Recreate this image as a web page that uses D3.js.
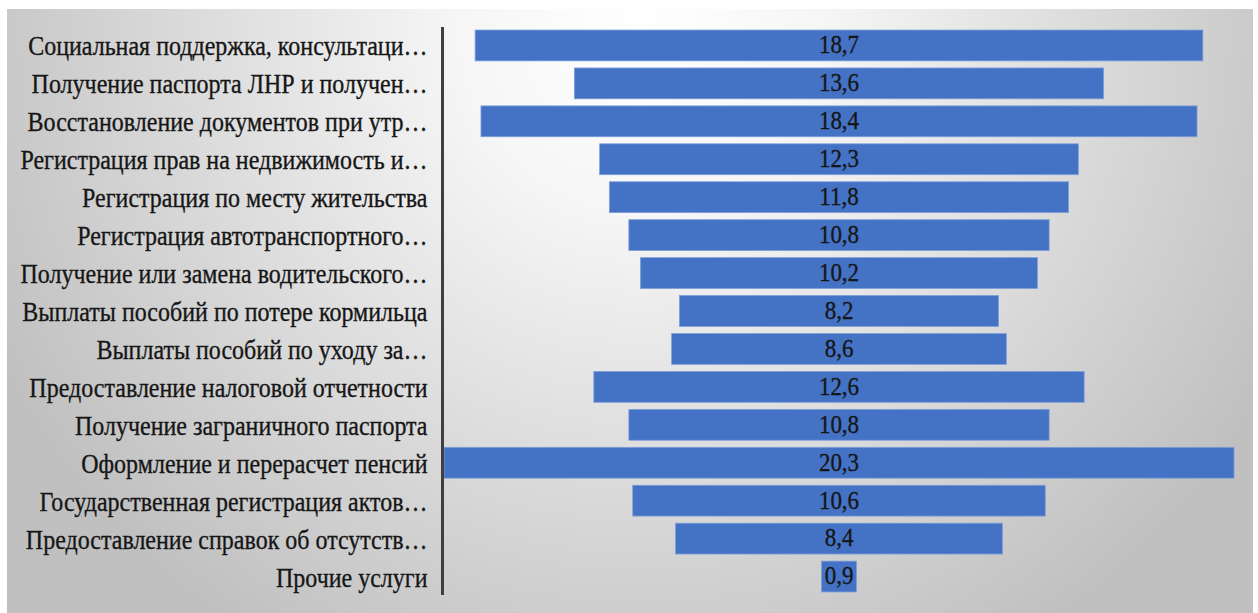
<!DOCTYPE html>
<html>
<head>
<meta charset="utf-8">
<script src="https://cdn.jsdelivr.net/npm/d3@7"></script>
<style>
  html, body { margin: 0; padding: 0; background: #ffffff; }
  svg { display: block; }
</style>
</head>
<body>
<svg id="chart" width="1258" height="613"></svg>
<script>
// Service categories (as shown, shortened with an ellipsis)
const categories = [
  "Социальная поддержка, консультаци…",
  "Получение паспорта ЛНР и получен…",
  "Восстановление документов при утр…",
  "Регистрация прав на недвижимость и…",
  "Регистрация по месту жительства",
  "Регистрация автотранспортного…",
  "Получение или замена водительского…",
  "Выплаты пособий по потере кормильца",
  "Выплаты пособий по уходу за…",
  "Предоставление налоговой отчетности",
  "Получение заграничного паспорта",
  "Оформление и перерасчет пенсий",
  "Государственная регистрация актов…",
  "Предоставление справок об отсутств…",
  "Прочие услуги"
];

// Share of requests, %
const values = [18.7, 13.6, 18.4, 12.3, 11.8, 10.8, 10.2, 8.2, 8.6, 12.6, 10.8, 20.3, 10.6, 8.4, 0.9];

const svg = d3.select("#chart");
const W = 1258, H = 613;
const serif = "'Liberation Serif', 'Times New Roman', Times, serif";
const ink = "#161616";

// Background panel with a soft radial shading
const defs = svg.append("defs");
const grad = defs.append("radialGradient")
  .attr("id", "bg")
  .attr("gradientUnits", "userSpaceOnUse")
  .attr("cx", 640).attr("cy", 30).attr("r", 720);
grad.append("stop").attr("offset", 0).attr("stop-color", "#ffffff");
grad.append("stop").attr("offset", 0.25).attr("stop-color", "#f6f6f6");
grad.append("stop").attr("offset", 1).attr("stop-color", "#c0c0c0");

svg.append("rect").attr("x", 7).attr("y", 9).attr("width", 1246).attr("height", H - 9)
  .attr("fill", "url(#bg)");

const axisX = 442.5;
const centerX = 839;
const plotTop = 27, plotBottom = 595;

const y = d3.scaleBand().domain(d3.range(categories.length))
  .range([plotTop, plotBottom]).paddingInner(0.187).paddingOuter(0.08);
// Half-width scale: bars are centred on one line, funnel style
const half = d3.scaleLinear().domain([0, 20.3]).range([0, (1234 - 444) / 2]);

const g = svg.append("g");

g.selectAll("rect.bar")
  .data(values)
  .join("rect")
  .attr("class", "bar")
  .attr("x", d => centerX - half(d))
  .attr("y", (d, i) => y(i))
  .attr("width", d => 2 * half(d))
  .attr("height", y.bandwidth())
  .attr("fill", "#4472c4")
  .attr("stroke", "#7d9fd9")
  .attr("stroke-width", 0.8);

// Value labels, centred on each bar (slightly tall lettering)
g.selectAll("g.val")
  .data(values)
  .join("g")
  .attr("class", "val")
  .attr("transform", (d, i) => `translate(${centerX},${y(i) + y.bandwidth() / 2}) scale(1,1.1)`)
  .append("text")
  .attr("dy", "0.31em")
  .attr("text-anchor", "middle")
  .attr("font-family", serif)
  .attr("font-size", 23)
  .attr("fill", ink)
  .attr("stroke", ink)
  .attr("stroke-width", 0.3)
  .text(d => d.toFixed(1).replace(".", ","));

// Category axis on the left
const yAxis = d3.axisLeft(y).tickSize(0).tickPadding(15).tickFormat(i => categories[i])
  .offset(0);
const ax = svg.append("g").attr("transform", `translate(${axisX},0)`).call(yAxis);
ax.attr("font-family", serif);
ax.select(".domain").attr("stroke", "#3f3f3f").attr("stroke-width", 3);
ax.selectAll(".tick text")
  .attr("font-family", serif)
  .attr("font-size", 24)
  .attr("dy", "0.38em")
  .attr("transform", "scale(1,1.1)")
  .attr("fill", ink)
  .attr("stroke", ink)
  .attr("stroke-width", 0.3);
</script>
</body>
</html>
